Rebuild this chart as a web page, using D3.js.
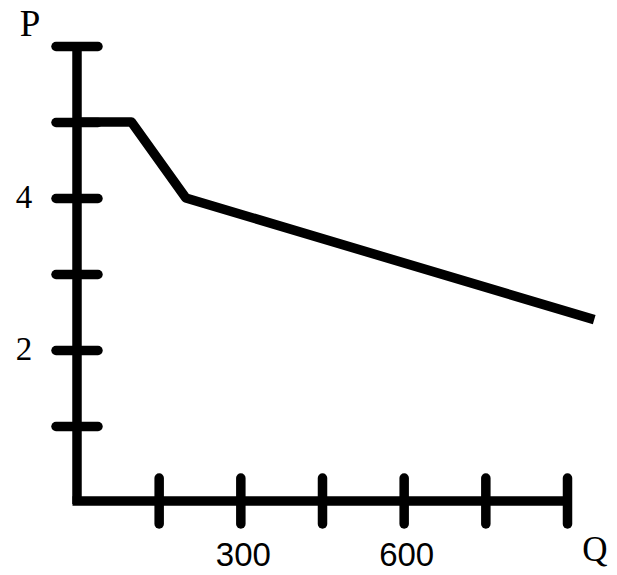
<!DOCTYPE html>
<html>
<head>
<meta charset="utf-8">
<script src="https://cdn.jsdelivr.net/npm/d3@7"></script>
<style>
  body { margin: 0; background: #fff; }
  .serif { font-family: "Liberation Serif", "Times New Roman", serif; }
  .sans { font-family: "Liberation Sans", Arial, sans-serif; }
</style>
</head>
<body>
<svg class="chart"></svg>
<script>
var width = 617,
    height = 575;

// demand curve points (Q, P)
var qValues = [0, 100, 200, 950];
var pValues = [5, 5, 4, 2.4];

// ticks and their labels
var qTicks = [150, 300, 450, 600, 750, 900];
var qLabels = ["", "300", "", "600", "", ""];
var pTicks = [1, 2, 3, 4, 5, 6];
var pLabels = ["", "2", "", "4", "", ""];

var points = qValues.map(function(q, i) { return { q: q, p: pValues[i] }; });

var x = d3.scaleLinear()
    .domain([0, 900])
    .range([77, 567]);

var y = d3.scaleLinear()
    .domain([0, 6])
    .range([502, 46]);

var svg = d3.select(".chart")
    .attr("width", width)
    .attr("height", height);

var stroke = 9.5;

// y axis line + ticks (ticks cross the axis)
var yAxis = svg.append("g")
    .attr("class", "y axis")
    .attr("transform", "translate(" + x(0) + ",0)")
    .call(d3.axisLeft(y).tickValues(pTicks).tickSizeOuter(0).tickFormat(""));

yAxis.select(".domain").remove();
yAxis.append("line")
    .attr("y1", y(6) - 4)
    .attr("y2", y(0) + 2)
    .attr("stroke", "#000")
    .attr("stroke-width", stroke);
yAxis.selectAll(".tick line")
    .attr("x1", -21)
    .attr("x2", 21)
    .attr("stroke", "#000")
    .attr("stroke-width", stroke)
    .attr("stroke-linecap", "round");

// x axis line + ticks
var xAxis = svg.append("g")
    .attr("class", "x axis")
    .attr("transform", "translate(0," + (y(0) - 1) + ")")
    .call(d3.axisBottom(x).tickValues(qTicks).tickSizeOuter(0).tickFormat(""));

xAxis.select(".domain").remove();
xAxis.append("line")
    .attr("x1", x(0) - 4.5)
    .attr("x2", x(900))
    .attr("stroke", "#000")
    .attr("stroke-width", stroke);
xAxis.selectAll(".tick line")
    .attr("y1", -23)
    .attr("y2", 23)
    .attr("stroke", "#000")
    .attr("stroke-width", stroke)
    .attr("stroke-linecap", "round");

// tick labels
svg.selectAll(".p-label")
    .data(pTicks)
  .enter().append("text")
    .attr("class", "p-label serif")
    .attr("x", 24)
    .attr("y", function(d) { return y(d) + 10; })
    .attr("text-anchor", "middle")
    .style("font-size", "33px")
    .text(function(d, i) { return pLabels[i]; });

svg.selectAll(".q-label")
    .data(qTicks)
  .enter().append("text")
    .attr("class", "q-label sans")
    .attr("x", function(d) { return x(d) + 3; })
    .attr("y", 566)
    .attr("text-anchor", "middle")
    .style("font-size", "33px")
    .text(function(d, i) { return qLabels[i]; });

// axis titles
svg.append("text")
    .attr("class", "serif")
    .attr("x", 30)
    .attr("y", 36)
    .attr("text-anchor", "middle")
    .style("font-size", "37px")
    .text("P");

svg.append("text")
    .attr("class", "serif")
    .attr("x", 595)
    .attr("y", 561)
    .attr("text-anchor", "middle")
    .style("font-size", "35px")
    .text("Q");

// the curve
var line = d3.line()
    .x(function(d) { return x(d.q); })
    .y(function(d) { return y(d.p); });

svg.append("path")
    .datum(points)
    .attr("fill", "none")
    .attr("stroke", "#000")
    .attr("stroke-width", stroke)
    .attr("stroke-linejoin", "round")
    .attr("d", line);
</script>
</body>
</html>
